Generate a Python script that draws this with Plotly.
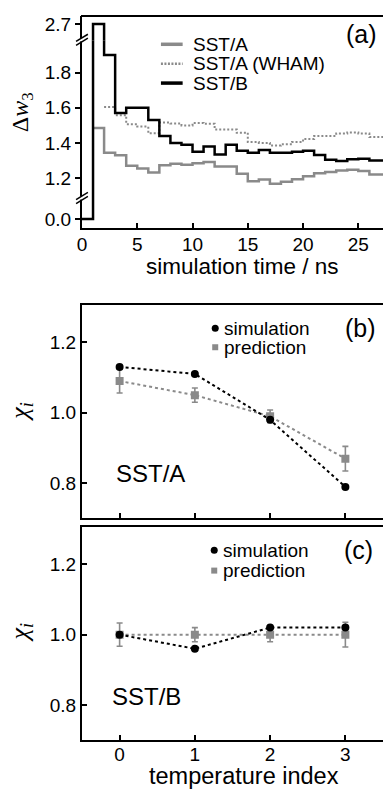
import plotly.graph_objects as go

# ---------------- data ----------------
# panel (a): running estimates, one value per 1-ns bin (bin start times)
sstb_t = list(range(0, 27))
sstb_w = [0.0, 2.70, 1.90, 1.57, 1.60, 1.60, 1.53, 1.44, 1.40, 1.39, 1.35, 1.38,
          1.335, 1.39, 1.355, 1.345, 1.36, 1.345, 1.345, 1.35, 1.355, 1.332,
          1.305, 1.298, 1.308, 1.31, 1.30]
ssta_t = list(range(1, 27))
ssta_w = [1.485, 1.345, 1.33, 1.27, 1.255, 1.232, 1.273, 1.282, 1.276, 1.285,
          1.292, 1.266, 1.266, 1.225, 1.182, 1.192, 1.168, 1.18, 1.193, 1.21,
          1.228, 1.235, 1.243, 1.248, 1.24, 1.22]
wham_t = list(range(2, 27))
wham_w = [1.605, 1.558, 1.507, 1.493, 1.455, 1.516, 1.511, 1.50, 1.514, 1.509,
          1.477, 1.477, 1.458, 1.405, 1.40, 1.385, 1.392, 1.405, 1.423, 1.44,
          1.44, 1.454, 1.46, 1.454, 1.434]
t_end = 27.5

# panels (b), (c)
temp_idx = [0, 1, 2, 3]
sim_a = [1.13, 1.11, 0.98, 0.79]
pred_a = [1.09, 1.05, 0.99, 0.87]
err_a = [0.034, 0.02, 0.018, 0.035]
sim_b = [1.00, 0.96, 1.02, 1.02]
pred_b = [1.00, 1.00, 1.00, 1.00]
err_b = [0.033, 0.02, 0.02, 0.035]

# ---------------- layout helpers ----------------
W, H = 383, 789
def X(px): return px / W
def Y(py): return 1 - py / H

GRAY = "#8a8a8a"
FONT = "Liberation Sans"
SERIF = "Liberation Serif"
TICKF = dict(family=FONT, size=19, color="black")

def step(t, v):
    return t + [t_end], v + [v[-1]]

fig = go.Figure()

# panel (a) segments: y3 bottom (0.0), y2 middle, y top (2.7)
for ya in ["y", "y2", "y3"]:
    xs, ys = step(ssta_t, ssta_w)
    fig.add_trace(go.Scatter(x=xs, y=ys, mode="lines", line=dict(color=GRAY, width=2.5, shape="hv"),
                             xaxis="x", yaxis=ya, showlegend=False))
    xs, ys = step(wham_t, wham_w)
    fig.add_trace(go.Scatter(x=xs, y=ys, mode="lines", line=dict(color=GRAY, width=2, shape="hv", dash="2px,2px"),
                             xaxis="x", yaxis=ya, showlegend=False))
    xs, ys = step(sstb_t, sstb_w)
    fig.add_trace(go.Scatter(x=xs, y=ys, mode="lines", line=dict(color="black", width=2.5, shape="hv"),
                             xaxis="x", yaxis=ya, showlegend=False))

# panels (b), (c)
for xa, ya, sim, pred, err in [("x2", "y4", sim_a, pred_a, err_a), ("x3", "y5", sim_b, pred_b, err_b)]:
    fig.add_trace(go.Scatter(x=temp_idx, y=pred, mode="lines+markers",
                             line=dict(color=GRAY, width=2, dash="dot"),
                             marker=dict(symbol="square", size=8, color=GRAY),
                             error_y=dict(type="data", array=err, color=GRAY, thickness=1.6, width=3),
                             xaxis=xa, yaxis=ya, showlegend=False))
    fig.add_trace(go.Scatter(x=temp_idx, y=sim, mode="lines+markers",
                             line=dict(color="black", width=2, dash="dot"),
                             marker=dict(symbol="circle", size=8, color="black"),
                             xaxis=xa, yaxis=ya, showlegend=False))

axcommon = dict(showline=True, linecolor="black", linewidth=2, showgrid=False, zeroline=False,
                tickfont=TICKF, tickcolor="black", tickwidth=1.5, ticklen=5)

px_per = 176.7
fig.update_layout(
    width=W, height=H, margin=dict(l=0, r=0, t=0, b=0),
    paper_bgcolor="white", plot_bgcolor="white",
    xaxis=dict(domain=[X(78), 1], range=[0, (383 - 78) / 11.2], anchor="y3",
               tickvals=[0, 5, 10, 15, 20, 25], ticks="inside", ticklabelstandoff=-2, **axcommon),
    yaxis=dict(domain=[Y(39), Y(14)], range=[2.7 - 17 / px_per, 2.7 + 8 / px_per], anchor="x",
               tickvals=[2.7], tickformat=".1f", ticks="outside", **axcommon),
    yaxis2=dict(domain=[Y(197), Y(39)], range=[1.8 - (197 - 71) / px_per, 1.8 + (71 - 39) / px_per], anchor="x",
                tickvals=[1.2, 1.4, 1.6, 1.8], tickformat=".1f", ticks="outside", **axcommon),
    yaxis3=dict(domain=[Y(227), Y(197)], range=[-9 / px_per, 21 / px_per], anchor="x",
                tickvals=[0.0], tickformat=".1f", ticks="outside", **axcommon),
    xaxis2=dict(domain=[X(78), 1], range=[-0.5, 3.5], anchor="y4", mirror=True,
                tickvals=temp_idx, showticklabels=False, ticks="inside", **axcommon),
    yaxis4=dict(domain=[Y(519), Y(305)], range=[0.701, 1.304], anchor="x2",
                tickvals=[0.8, 1.0, 1.2], tickformat=".1f", ticks="inside", **axcommon),
    xaxis3=dict(domain=[X(78), 1], range=[-0.5, 3.5], anchor="y5", mirror=True,
                tickvals=temp_idx, ticks="inside", ticklabelstandoff=-4, **axcommon),
    yaxis5=dict(domain=[Y(742), Y(528)], range=[0.701, 1.304], anchor="x3",
                tickvals=[0.8, 1.0, 1.2], tickformat=".1f", ticks="inside", **axcommon),
)

shapes = []
# top border of panel (a)
shapes.append(dict(type="line", xref="paper", yref="paper", x0=X(77), x1=1, y0=Y(14), y1=Y(14),
                   line=dict(color="black", width=2)))
# axis breaks
for c in [38, 197]:
    shapes.append(dict(type="rect", xref="paper", yref="paper", x0=X(75), x1=X(81), y0=Y(c + 1.6), y1=Y(c - 1.6),
                       fillcolor="white", line=dict(width=0), layer="above"))
    for off in [-2, 2]:
        shapes.append(dict(type="line", xref="paper", yref="paper", x0=X(72), x1=X(84),
                           y0=Y(c + off + 3.6), y1=Y(c + off - 3.6), line=dict(color="black", width=1.5), layer="above"))
# legend samples panel (a)
shapes.append(dict(type="line", xref="paper", yref="paper", x0=X(158), x1=X(180), y0=Y(42.5), y1=Y(42.5),
                   line=dict(color=GRAY, width=3.5)))
shapes.append(dict(type="line", xref="paper", yref="paper", x0=X(158), x1=X(180), y0=Y(62), y1=Y(62),
                   line=dict(color=GRAY, width=2.5, dash="2px,1.5px")))
shapes.append(dict(type="line", xref="paper", yref="paper", x0=X(158), x1=X(180), y0=Y(81.5), y1=Y(81.5),
                   line=dict(color="black", width=3.5)))
# legend markers panels (b),(c)
for cx, cy1, cy2 in [(213, 328, 347), (212, 551, 571.5)]:
    shapes.append(dict(type="circle", xref="paper", yref="paper", xsizemode="pixel", ysizemode="pixel",
                       xanchor=X(cx), yanchor=Y(cy1), x0=-3.5, x1=3.5, y0=-3.5, y1=3.5,
                       fillcolor="black", line=dict(width=0)))
    shapes.append(dict(type="rect", xref="paper", yref="paper", xsizemode="pixel", ysizemode="pixel",
                       xanchor=X(cx), yanchor=Y(cy2), x0=-3, x1=3, y0=-3, y1=3,
                       fillcolor=GRAY, line=dict(width=0)))
fig.update_layout(shapes=shapes)

ann = []
def text(t, x, y, size, xanchor="left", family=FONT, angle=0):
    ann.append(dict(text=t, x=X(x), y=Y(y), xref="paper", yref="paper", xanchor=xanchor, yanchor="middle",
                    showarrow=False, textangle=angle, font=dict(family=family, size=size, color="black")))

text("SST/A", 188, 42.5, 19)
text("SST/A (WHAM)", 188, 62, 19)
text("SST/B", 188, 81.5, 19)
text("(a)", 361, 32, 25, "center")
text("simulation", 220, 328, 19)
text("prediction", 220, 347, 19)
text("(b)", 360, 328, 25, "center")
text("SST/A", 110, 474, 24)
text("simulation", 219, 551, 19)
text("prediction", 219, 571.5, 19)
text("(c)", 358, 551, 25, "center")
text("SST/B", 106, 698.5, 24)
text("simulation time / ns", 240.5, 266, 22.5, "center")
text("temperature index", 242.5, 778, 23.5, "center")
text("Δ<i>w</i><sub>3</sub>", 18, 111, 24, "center", SERIF, -90)
text("<i>χ</i><sub><i>i</i></sub>", 16, 412, 26, "center", SERIF, -90)
text("<i>χ</i><sub><i>i</i></sub>", 16, 634, 26, "center", SERIF, -90)
fig.update_layout(annotations=ann)

fig.write_html("out.html")
